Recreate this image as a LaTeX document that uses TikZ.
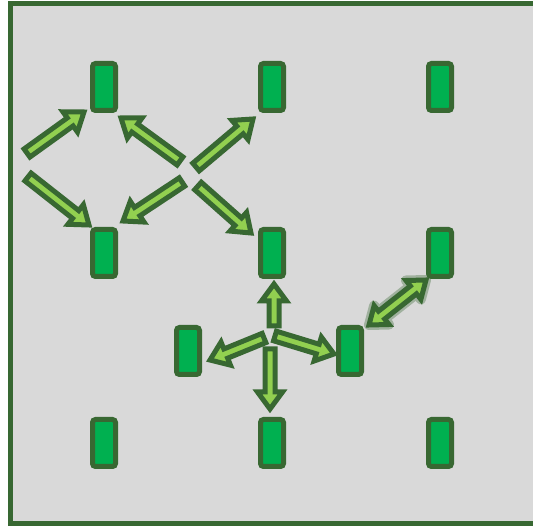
\documentclass[tikz,border=0pt]{standalone}
\usetikzlibrary{calc}
\definecolor{dkgreen}{RGB}{56,104,50}
\definecolor{boxgreen}{RGB}{0,176,80}
\definecolor{ltgreen}{RGB}{146,208,80}
\definecolor{bggray}{RGB}{217,217,217}
\tikzset{
  box/.style={draw=dkgreen, fill=boxgreen, line width=5pt, rounded corners=3pt,
    minimum width=23pt, minimum height=47pt, inner sep=0pt},
  barrow/.style={draw=dkgreen, fill=ltgreen, line width=5pt, line join=miter},
  bshadow/.style={draw=dkgreen, fill=dkgreen, line width=10pt, line join=round, opacity=0.35},
}
% single block arrow from #2 (tail) to #3 (tip)
\newcommand\blkarrow[3][barrow]{%
  \coordinate (hB) at ($(#3)!17pt!(#2)$);
  \draw[#1] ($(#2)!5pt!90:(#3)$) -- ($(hB)!5pt!90:(#3)$) -- ($(hB)!12.5pt!90:(#3)$)
    -- (#3) -- ($(hB)!12.5pt!-90:(#3)$) -- ($(hB)!5pt!-90:(#3)$)
    -- ($(#2)!5pt!-90:(#3)$) -- cycle;
}
% double block arrow between #2 and #3
\newcommand\dblarrow[3][barrow]{%
  \coordinate (hA) at ($(#2)!16pt!(#3)$);
  \coordinate (hB) at ($(#3)!16pt!(#2)$);
  \draw[#1] (#2) -- ($(hA)!12pt!90:(#3)$) -- ($(hA)!5pt!90:(#3)$)
    -- ($(hB)!5pt!90:(#3)$) -- ($(hB)!12pt!90:(#3)$) -- (#3)
    -- ($(hB)!12pt!-90:(#3)$) -- ($(hB)!5pt!-90:(#3)$)
    -- ($(hA)!5pt!-90:(#3)$) -- ($(hA)!12pt!-90:(#3)$) -- cycle;
}
\begin{document}
\begin{tikzpicture}[x=1pt,y=-1pt]
  \useasboundingbox (0,0) rectangle (533,526);
  \clip (0,0) rectangle (533,526);
  \draw[dkgreen, fill=bggray, line width=5pt] (10.5,3.5) rectangle (560,523.5);

  % boxes
  \node[box] (a1) at (104,87) {};
  \node[box] (a2) at (272,87) {};
  \node[box] (a3) at (440,87) {};
  \node[box] (b1) at (104,253) {};
  \node[box] (b2) at (272,253) {};
  \node[box] (b3) at (440,253) {};
  \node[box] (c1) at (188,351) {};
  \node[box] (c2) at (350,351) {};
  \node[box] (d1) at (104,443) {};
  \node[box] (d2) at (272,443) {};
  \node[box] (d3) at (440,443) {};

  % arrow end points
  \coordinate (t1) at (27,153);   \coordinate (p1) at (84,112);
  \coordinate (t2) at (180,161);  \coordinate (p2) at (121,118);
  \coordinate (t3) at (28,177);   \coordinate (p3) at (89,225);
  \coordinate (t4) at (182,182);  \coordinate (p4) at (123,221);
  \coordinate (t5) at (196,167);  \coordinate (p5) at (253,119);
  \coordinate (t6) at (198,186);  \coordinate (p6) at (251,233);
  \coordinate (t7) at (274,326);  \coordinate (p7) at (274,284);
  \coordinate (t8) at (270,349);  \coordinate (p8) at (270,409);
  \coordinate (t9) at (264,338);  \coordinate (p9) at (210,360);
  \coordinate (t10) at (275,336); \coordinate (p10) at (334,354);
  \coordinate (q1) at (369,325);  \coordinate (q2) at (426,280);

  \blkarrow{t1}{p1}
  \blkarrow{t2}{p2}
  \blkarrow{t3}{p3}
  \blkarrow{t4}{p4}
  \blkarrow{t5}{p5}
  \blkarrow{t6}{p6}
  \blkarrow{t7}{p7}
  \blkarrow{t8}{p8}
  \blkarrow{t9}{p9}
  \blkarrow{t10}{p10}
  \dblarrow[bshadow]{q1}{q2}
  \dblarrow{q1}{q2}
\end{tikzpicture}
\end{document}
